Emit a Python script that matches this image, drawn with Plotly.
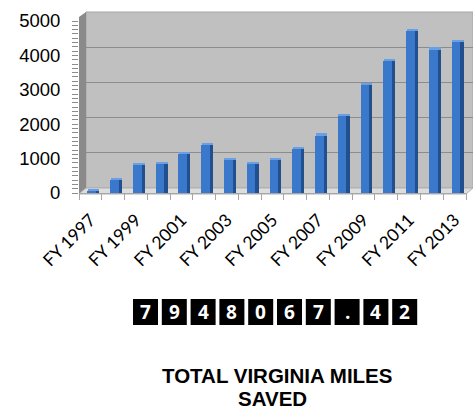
import plotly.graph_objects as go

# Figure size in pixels
W, H = 473, 410

# Fiscal years and miles saved per year
years = ["FY 1997", "FY 1998", "FY 1999", "FY 2000", "FY 2001", "FY 2002",
         "FY 2003", "FY 2004", "FY 2005", "FY 2006", "FY 2007", "FY 2008",
         "FY 2009", "FY 2010", "FY 2011", "FY 2012", "FY 2013"]
miles_saved = [60, 380, 820, 850, 1140, 1400, 950, 850, 950, 1270,
               1670, 2240, 3150, 3850, 4710, 4170, 4400]
# Only every other year gets a label on the axis
year_labels = [y if i % 2 == 0 else "" for i, y in enumerate(years)]

# Running total shown in the counter
total_miles = 7948067.42
title_lines = ["TOTAL VIRGINIA MILES", "SAVED"]


def px_x(p):
    return p / W


def px_y(p):
    return 1 - p / H


FRONT = "#3A78CC"
SIDE = "#22508F"
TOP = "#6A9FE3"

fig = go.Figure()

# Invisible trace so the back-wall subplot (x/y) exists
fig.add_trace(go.Scatter(x=[0], y=[0], mode="markers", marker=dict(opacity=0),
                         hoverinfo="skip", showlegend=False, xaxis="x", yaxis="y"))

# Bar front faces
fig.add_trace(go.Bar(x=years, y=miles_saved, width=0.38, offset=-0.13,
                     marker=dict(color=FRONT, line=dict(width=0)),
                     xaxis="x2", yaxis="y2", showlegend=False))
# Bar right-hand side faces
fig.add_trace(go.Bar(x=years, y=miles_saved, width=0.14, offset=0.25,
                     marker=dict(color=SIDE, line=dict(width=0)),
                     xaxis="x2", yaxis="y2", showlegend=False))
# Bar top faces
fig.add_trace(go.Bar(x=years, y=[60] * len(years), base=miles_saved,
                     width=0.5, offset=-0.11,
                     marker=dict(color=TOP, line=dict(width=0)),
                     xaxis="x2", yaxis="y2", showlegend=False))

shapes = []
# Back wall
shapes.append(dict(type="rect", xref="x domain", yref="y domain",
                   x0=0, x1=1, y0=0, y1=1, fillcolor="#C0C0C0",
                   line=dict(color="#A6A6A6", width=1), layer="below"))
# Left side wall
shapes.append(dict(type="path", xref="paper", yref="paper",
                   path=f"M {px_x(79)},{px_y(194)} L {px_x(79)},{px_y(17)} "
                        f"L {px_x(86)},{px_y(12)} L {px_x(86)},{px_y(188)} Z",
                   fillcolor="#8A8A8A", line=dict(width=0), layer="below"))
# Floor
shapes.append(dict(type="path", xref="paper", yref="paper",
                   path=f"M {px_x(79)},{px_y(194)} L {px_x(466)},{px_y(194)} "
                        f"L {px_x(473)},{px_y(188)} L {px_x(86)},{px_y(188)} Z",
                   fillcolor="#DDDDDD", line=dict(color="#B0B0B0", width=1),
                   layer="below"))

# Counter boxes with one character each
counter_text = f"{total_miles:.2f}"
annotations = []
box_w, pitch, left = 25, 28.8, 133
for i, ch in enumerate(counter_text):
    x0 = left + i * pitch
    shapes.append(dict(type="rect", xref="paper", yref="paper",
                       x0=px_x(x0), x1=px_x(x0 + box_w),
                       y0=px_y(325), y1=px_y(299),
                       fillcolor="black", line=dict(width=0)))
    annotations.append(dict(text=f"<b>{ch}</b>", xref="paper", yref="paper",
                            x=px_x(x0 + box_w / 2), y=px_y(312),
                            xanchor="center", yanchor="middle", showarrow=False,
                            font=dict(family="Open Sans", size=19, color="white")))

# Caption below the counter
for line, cx, cy in zip(title_lines, [277, 272], [375, 398]):
    annotations.append(dict(text=f"<b>{line}</b>", xref="paper", yref="paper",
                            x=px_x(cx), y=px_y(cy), xanchor="center",
                            yanchor="middle", showarrow=False,
                            font=dict(family="Liberation Sans, Arial", size=20.5,
                                      color="black")))

fig.update_layout(
    width=W, height=H,
    margin=dict(l=0, r=0, t=0, b=0),
    paper_bgcolor="white", plot_bgcolor="rgba(0,0,0,0)",
    bargap=0, barmode="overlay",
    shapes=shapes, annotations=annotations,
    # Back wall axes
    xaxis=dict(domain=[px_x(86), px_x(473)], range=[-0.5, 0.5], visible=False,
               fixedrange=True),
    yaxis=dict(domain=[px_y(188), px_y(12)], range=[0, 5000], dtick=1000,
               showgrid=True, gridcolor="#8C8C8C", gridwidth=1,
               showticklabels=False, zeroline=False, ticks="",
               showline=False, fixedrange=True),
    # Front axes carrying the bars
    xaxis2=dict(domain=[px_x(79), px_x(466)], anchor="y2", type="category",
                range=[-0.5, 16.5], tickmode="array", tickvals=years,
                ticktext=year_labels, tickson="boundaries", ticks="outside",
                ticklen=6, tickcolor="#A6A6A6", showline=True,
                linecolor="#A6A6A6", showgrid=False, tickangle=-45,
                tickfont=dict(family="Lato", size=17.5, color="black"),
                ticklabelstandoff=9, automargin=False, fixedrange=True),
    yaxis2=dict(domain=[px_y(193), px_y(21)], anchor="x2", range=[0, 5000],
                dtick=1000, showgrid=False, zeroline=False, ticks="outside",
                ticklen=6, tickcolor="#8C8C8C", showline=False,
                minor=dict(dtick=125, ticks="outside", ticklen=6,
                           tickcolor="#8C8C8C"),
                tickfont=dict(family="Liberation Sans, Arial", size=18.5,
                              color="black"),
                ticklabelstandoff=8, automargin=False, fixedrange=True),
)

fig.write_html("out.html")
